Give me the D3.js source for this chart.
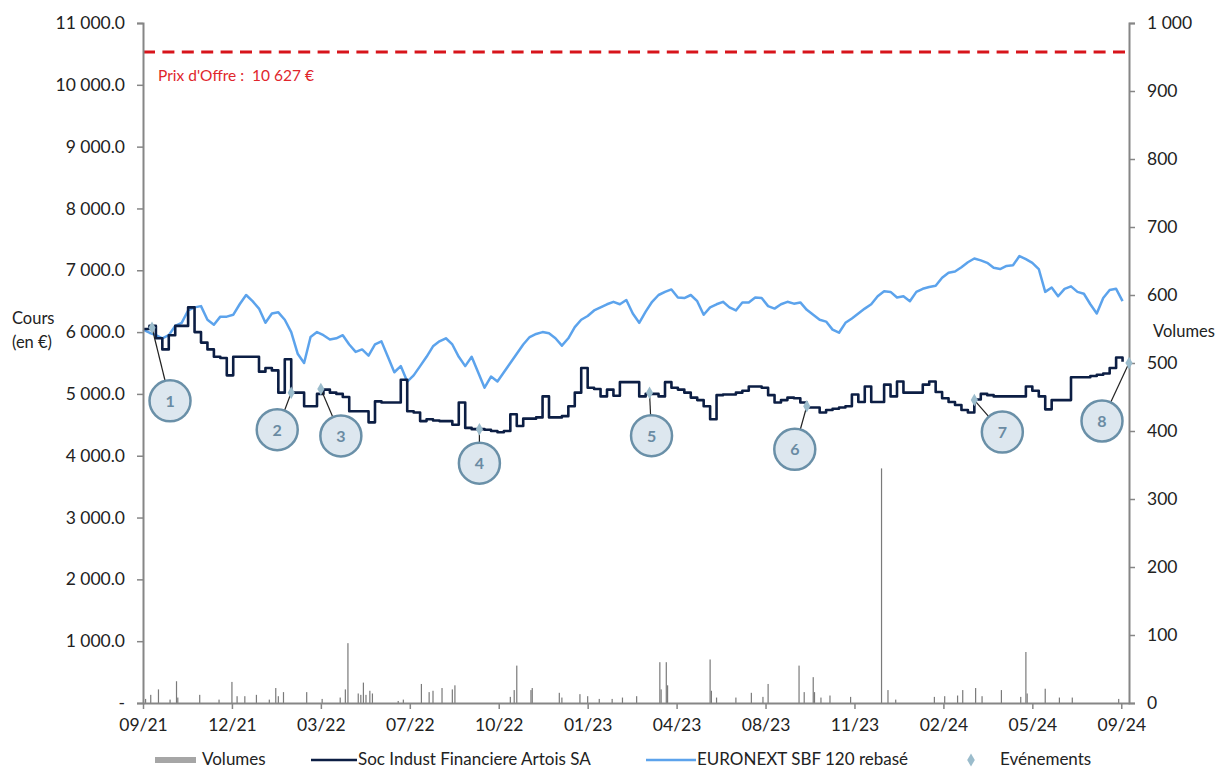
<!DOCTYPE html>
<html>
<head>
<meta charset="utf-8">
<script src="https://cdn.jsdelivr.net/npm/d3@7"></script>
<style>
  body { margin: 0; background: #fff; }
  svg { display: block; font-family: Lato, "Open Sans", sans-serif; }
  .axis path, .axis line { stroke: #868686; }
  .axis path { stroke-width: 2; }
  .axis line { stroke-width: 1.5; }
  .axis text { fill: #222; font-size: 17.5px; font-family: Lato, sans-serif; }
</style>
</head>
<body>
<script>
"use strict";

// x axis is a trading-day axis, one tick every 69 sessions
var xTickLabels = ["09/21", "12/21", "03/22", "07/22", "10/22", "01/23", "04/23", "08/23", "11/23", "02/24", "05/24", "09/24"];
var daysPerTick = 69;
var totalDays = 765;
var weekStep = 5; // one price sample every 5 sessions

// Soc Indust Financiere Artois SA, weekly (EUR)
var sifaPrices = [
    6050, 6100, 5900, 5720, 5950, 6100, 6100, 6400, 6000, 5830,
    5720, 5600, 5580, 5300, 5600, 5600, 5600, 5600, 5360, 5420,
    5380, 5020, 5560, 5020, 5020, 4800, 4800, 5000, 5070, 5020,
    5000, 4950, 4720, 4720, 4720, 4540, 4880, 4860, 4860, 4860,
    5230, 4720, 4700, 4560, 4590, 4570, 4560, 4560, 4500, 4860,
    4450, 4430, 4430, 4420, 4400, 4380, 4400, 4670, 4480, 4600,
    4600, 4620, 4960, 4620, 4620, 4640, 4800, 5020, 5420, 5100,
    5080, 4960, 5070, 4970, 5190, 5190, 5190, 4960, 5000, 5000,
    4960, 5190, 5100, 5070, 5020, 4940, 4900, 4800, 4590, 4980,
    4990, 4990, 5020, 5050, 5120, 5120, 5100, 4980, 4860, 4900,
    4940, 4930, 4860, 4780, 4780, 4700, 4740, 4760, 4780, 4800,
    4990, 4870, 5120, 4870, 4870, 5150, 4960, 5200, 5020, 5020,
    5020, 5150, 5200, 5030, 4930, 4870, 4820, 4740, 4700, 4910,
    5000, 4980, 4960, 4960, 4960, 4960, 4960, 5120, 5050, 4960,
    4750, 4900, 4900, 4900, 5270, 5270, 5270, 5290, 5310, 5330,
    5420, 5590, 5520
];

// EURONEXT SBF 120 rebased on the SIFA price, weekly
var sbfRebased = [
    6040, 5990, 5950, 5900, 5950, 6100, 6150, 6350, 6400, 6420,
    6200, 6120, 6250, 6250, 6280, 6450, 6600, 6500, 6380, 6150,
    6300, 6320, 6200, 6000, 5650, 5500, 5920, 6000, 5950, 5880,
    5900, 5950, 5800, 5680, 5720, 5620, 5800, 5850, 5600, 5350,
    5450, 5200, 5300, 5450, 5600, 5770, 5850, 5900, 5800, 5600,
    5450, 5600, 5350, 5100, 5280, 5200, 5350, 5500, 5650, 5800,
    5920, 5970, 6000, 5980, 5900, 5780, 5900, 6080, 6200, 6260,
    6350, 6400, 6450, 6490, 6450, 6520, 6300, 6150, 6330, 6490,
    6600, 6650, 6690, 6560, 6550, 6600, 6500, 6280, 6400, 6450,
    6490, 6400, 6350, 6480, 6480, 6560, 6550, 6420, 6380, 6450,
    6490, 6460, 6480, 6360, 6280, 6200, 6170, 6040, 5990, 6150,
    6220, 6300, 6380, 6450, 6580, 6660, 6650, 6560, 6580, 6500,
    6650, 6700, 6730, 6750, 6880, 6960, 6980, 7050, 7130, 7190,
    7160, 7120, 7040, 7020, 7070, 7080, 7230, 7180, 7120, 7020,
    6650, 6720, 6580, 6700, 6740, 6650, 6620, 6450, 6300, 6550,
    6680, 6700, 6500
];

// daily volumes (shares), only the sessions with visible trading
var volumeDays = [
    2, 6, 12, 21, 26, 27, 44, 59, 69, 73, 79, 88, 98, 103, 105, 109, 127, 139,
    153, 157, 159, 167, 169, 171, 173, 176, 178, 198, 202, 216, 222, 225, 232,
    240, 242, 285, 288, 290, 301, 302, 323, 325, 339, 345, 354, 364, 372, 383,
    401, 402, 406, 407, 440, 441, 445, 460, 472, 481, 485, 509, 513, 520, 521,
    526, 533, 549, 573, 578, 584, 614, 622, 632, 636, 646, 651, 666, 681, 685,
    686, 700, 711, 721, 757
];
var volumeValues = [
    6, 12, 20, 5, 32, 8, 12, 5, 31, 10, 10, 12, 5, 22, 10, 16, 16, 6,
    8, 20, 88, 14, 12, 30, 12, 18, 14, 3, 5, 28, 16, 18, 22,
    20, 26, 9, 19, 55, 19, 22, 15, 8, 13, 10, 6, 6, 8, 10,
    60, 20, 60, 26, 64, 18, 8, 8, 15, 9, 28, 55, 16, 38, 16,
    8, 11, 9, 345, 19, 5, 9, 10, 11, 19, 22, 10, 19, 9, 75,
    14, 21, 8, 8, 6
];

// events
var eventDays = [7, 115, 138, 261, 393, 515, 645, 765];
var eventPrices = [6070, 5020, 5080, 4430, 5020, 4800, 4900, 5500];
var eventLabels = ["1", "2", "3", "4", "5", "6", "7", "8"];
var eventBubbleOffsets = [[18, 73], [-14, 37], [20, 47], [0, 34], [2, 43], [-12, 43], [28, 32], [-27, 58]];

var offerLevel = 10530;
var offerText = "Prix d'Offre :  10 627 \u20ac";

var priceTicks = d3.range(0, 11001, 1000);
var volumeTicks = d3.range(0, 1001, 100);

var legendItems = ["Volumes", "Soc Indust Financiere Artois SA", "EURONEXT SBF 120 rebas\u00e9", "Ev\u00e9nements"];

var navy = "#0c1e44";
var lightBlue = "#5ca3ec";
var red = "#d7141b";
var bubbleStroke = "#6a90a8";

var margin = {top: 23, right: 94, bottom: 66, left: 143};
var totalW = 1223, totalH = 769;
var width = totalW - margin.left - margin.right;
var height = totalH - margin.top - margin.bottom;

var svg = d3.select("body").append("svg")
    .attr("width", totalW)
    .attr("height", totalH);

var g = svg.append("g")
    .attr("transform", "translate(" + margin.left + "," + margin.top + ")");

var x = d3.scaleLinear().domain([0, totalDays]).range([0, width]);
var yPrice = d3.scaleLinear().domain([0, 11000]).range([height, 0]);
var yVol = d3.scaleLinear().domain([0, 1000]).range([height, 0]);

var spaceThousands = function(fmt) {
    return function(d) { return d3.format(fmt)(d).replace(/,/g, " "); };
};

// volume bars
g.append("g").selectAll("rect")
    .data(volumeDays)
    .enter().append("rect")
    .attr("x", function(d) { return x(d) - 0.6; })
    .attr("width", 1.2)
    .attr("y", function(d, i) { return yVol(volumeValues[i]); })
    .attr("height", function(d, i) { return height - yVol(volumeValues[i]); })
    .attr("fill", "#7a7a7a");

// offer price
g.append("line")
    .attr("x1", 0).attr("x2", width)
    .attr("y1", yPrice(offerLevel)).attr("y2", yPrice(offerLevel))
    .attr("stroke", red)
    .attr("stroke-width", 3)
    .attr("stroke-dasharray", "12,7.4");

g.append("text")
    .attr("x", 15)
    .attr("y", yPrice(offerLevel) + 29)
    .attr("fill", "#e0262c")
    .style("font-size", "15.5px")
    .style("white-space", "pre")
    .text(offerText);

var line = function(values, curve) {
    return d3.line()
        .curve(curve)
        .x(function(d, i) { return x(i * weekStep); })
        .y(function(d) { return yPrice(d); })(values);
};

g.append("path")
    .attr("d", line(sbfRebased, d3.curveLinear))
    .attr("fill", "none")
    .attr("stroke", lightBlue)
    .attr("stroke-width", 2.5)
    .attr("stroke-linejoin", "round");

g.append("path")
    .attr("d", line(sifaPrices, d3.curveStepAfter))
    .attr("fill", "none")
    .attr("stroke", navy)
    .attr("stroke-width", 2.6)
    .attr("stroke-linejoin", "round");

// axes
g.append("g")
    .attr("class", "axis")
    .call(d3.axisLeft(yPrice).tickValues(priceTicks).tickSize(6).tickPadding(12)
        .tickFormat(function(d) { return d === 0 ? "-" : spaceThousands(",.1f")(d); }));

g.append("g")
    .attr("class", "axis")
    .attr("transform", "translate(" + width + ",0)")
    .call(d3.axisRight(yVol).tickValues(volumeTicks).tickSize(6).tickPadding(12)
        .tickFormat(spaceThousands(",")));

g.append("g")
    .attr("class", "axis")
    .attr("transform", "translate(0," + height + ")")
    .call(d3.axisBottom(x).tickValues(xTickLabels.map(function(d, i) { return i * daysPerTick; }))
        .tickSize(6).tickPadding(10).tickSizeOuter(0)
        .tickFormat(function(d, i) { return xTickLabels[i]; }));

// events: leader line, diamond, numbered bubble
var ev = g.append("g").selectAll("g")
    .data(eventDays)
    .enter().append("g")
    .attr("transform", function(d, i) { return "translate(" + x(d) + "," + yPrice(eventPrices[i]) + ")"; });

ev.append("line")
    .attr("x1", 0).attr("y1", 0)
    .attr("x2", function(d, i) { return eventBubbleOffsets[i][0]; })
    .attr("y2", function(d, i) { return eventBubbleOffsets[i][1]; })
    .attr("stroke", "#222")
    .attr("stroke-width", 1.2);

ev.append("path")
    .attr("d", d3.symbol().type(d3.symbolDiamond).size(45))
    .attr("fill", "#9bbccc");

ev.append("circle")
    .attr("cx", function(d, i) { return eventBubbleOffsets[i][0]; })
    .attr("cy", function(d, i) { return eventBubbleOffsets[i][1]; })
    .attr("r", 20.5)
    .attr("fill", "#dde7ef")
    .attr("stroke", bubbleStroke)
    .attr("stroke-width", 2.5);

ev.append("text")
    .attr("x", function(d, i) { return eventBubbleOffsets[i][0]; })
    .attr("y", function(d, i) { return eventBubbleOffsets[i][1] + 6; })
    .attr("text-anchor", "middle")
    .attr("fill", "#6a8ba3")
    .style("font-size", "16px")
    .style("font-weight", "bold")
    .text(function(d, i) { return eventLabels[i]; });

// axis titles
svg.append("text").attr("x", 12).attr("y", 324).style("font-size", "16.5px").attr("fill", "#222").text("Cours");
svg.append("text").attr("x", 12).attr("y", 348).style("font-size", "16.5px").attr("fill", "#222").text("(en \u20ac)");
svg.append("text").attr("x", 1153).attr("y", 337).style("font-size", "16.5px").attr("fill", "#222").text("Volumes");

// legend
var legend = svg.append("g").attr("transform", "translate(0,760)");
var legendX = [155, 311, 646, 971];
var legendTextX = [202, 358, 697, 1000];

legend.append("rect").attr("x", legendX[0]).attr("y", -3).attr("width", 41).attr("height", 6).attr("fill", "#a6a6a6");
legend.append("line").attr("x1", legendX[1]).attr("x2", legendX[1] + 46).attr("y1", 0).attr("y2", 0)
    .attr("stroke", navy).attr("stroke-width", 2.5);
legend.append("line").attr("x1", legendX[2]).attr("x2", legendX[2] + 50).attr("y1", 0).attr("y2", 0)
    .attr("stroke", lightBlue).attr("stroke-width", 2.5);
legend.append("path").attr("transform", "translate(" + legendX[3] + ",0)")
    .attr("d", d3.symbol().type(d3.symbolDiamond).size(50)).attr("fill", "#9bbccc");

legend.selectAll("text.leg")
    .data(legendItems)
    .enter().append("text")
    .attr("class", "leg")
    .attr("x", function(d, i) { return legendTextX[i]; })
    .attr("y", 5)
    .style("font-size", "17px")
    .attr("fill", "#222")
    .text(function(d) { return d; });
</script>
</body>
</html>
